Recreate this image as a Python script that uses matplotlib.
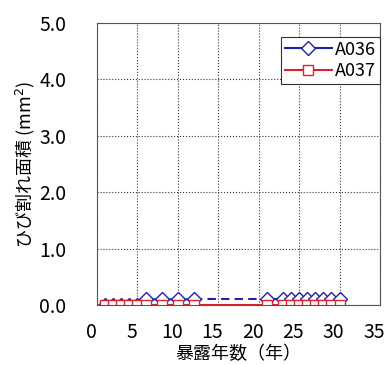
import matplotlib.pyplot as plt
from matplotlib.transforms import ScaledTranslation

plt.rcParams['font.family'] = ['Noto Sans CJK JP', 'DejaVu Sans']

# data
years = [1, 2, 3, 4, 5, 6, 8, 10, 12, 21, 23, 24, 25, 26, 27, 28, 29, 30]
a036 = [0, 0, 0, 0, 0, 0.1, 0.1, 0.1, 0.1, 0.1, 0.1, 0.1, 0.1, 0.1, 0.1, 0.1, 0.1, 0.1]
a037 = [0] * len(years)
dashed_gap = (12, 21)  # A036 gap drawn dashed

blue = '#2020a8'
red = '#e0202a'

fig = plt.figure(figsize=(3.89, 3.65), dpi=100)
ax = fig.add_axes([97 / 389, 60 / 365, 283 / 389, 282 / 365])

# A036: solid except the dashed gap
i0 = years.index(dashed_gap[0])
i1 = years.index(dashed_gap[1])
ax.plot(years[:i0 + 1], a036[:i0 + 1], color=blue, lw=1.5)
ax.plot(years[i0:i1 + 1], a036[i0:i1 + 1], color=blue, lw=1.5, ls=(0, (4, 2.5)))
ax.plot(years[i1:], a036[i1:], color=blue, lw=1.5)
ax.plot(years, a036, ls='none', marker='D', ms=7, mfc='white', mec=blue, mew=1)
ax.plot([], [], color=blue, lw=1.5, marker='D', ms=7, mfc='white', mec=blue, label='A036')

ax.plot(years, a037, color=red, lw=1.5, marker='s', ms=7, mfc='white', mec=red, mew=1,
        label='A037')

ax.set_xlim(0, 35)
ax.set_ylim(0, 5)
ax.set_xticks(range(0, 36, 5))
ax.set_yticks([0, 1, 2, 3, 4, 5])
ax.set_yticklabels(['0.0', '1.0', '2.0', '3.0', '4.0', '5.0'])
ax.grid(True, color='#333333', ls=':', lw=0.8)
ax.tick_params(length=0, labelsize=14, pad=12)
ax.tick_params(axis='y', pad=22)
for s in ax.spines.values():
    s.set_color('#555555')
    s.set_linewidth(0.8)

# x tick labels sit a little left of the grid lines, as in the original
shift = ScaledTranslation(-0.06, 0, fig.dpi_scale_trans)
for lab in ax.get_xticklabels():
    lab.set_transform(lab.get_transform() + shift)

ax.set_xlabel('暴露年数（年）', fontsize=13, labelpad=2)
ax.set_ylabel('ひび割れ面積 (mm$^2$)', fontsize=13, labelpad=2)

leg = ax.legend(loc='upper right', bbox_to_anchor=(1.0, 0.95), borderaxespad=0,
                fancybox=False, framealpha=1, edgecolor='#333333', fontsize=13,
                handlelength=2.6, handletextpad=0.2, borderpad=0.2, labelspacing=0.2)
leg.get_frame().set_linewidth(0.8)

fig.savefig('out.png', dpi=100)
